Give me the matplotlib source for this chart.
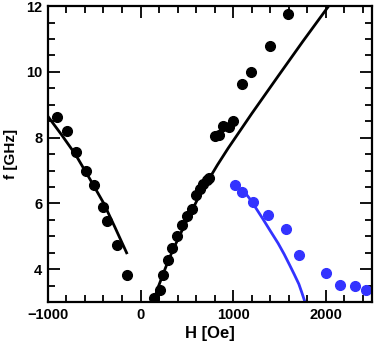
import numpy as np
import matplotlib
matplotlib.use("Agg")
import matplotlib.pyplot as plt
from matplotlib.ticker import MultipleLocator

plt.rcParams['font.family'] = ['Liberation Sans', 'DejaVu Sans']
plt.rcParams['font.weight'] = 'bold'

# measured points, negative field branch
h_neg = [-900, -798, -698, -593, -500, -403, -360, -259, -151]
f_neg = [8.63, 8.21, 7.56, 6.98, 6.55, 5.89, 5.46, 4.74, 3.83]

# measured points, positive field branch (black)
h_pos = [144, 209, 244, 302, 341, 395, 446, 497, 551, 597, 640, 676, 713, 741,
         802, 848, 892, 950, 993, 1093, 1191, 1396, 1593]
f_pos = [3.12, 3.37, 3.83, 4.27, 4.66, 5.01, 5.33, 5.62, 5.84, 6.27, 6.45, 6.60, 6.71, 6.78,
         8.04, 8.09, 8.37, 8.31, 8.52, 9.63, 9.99, 10.80, 11.76]

# measured points, blue mode
h_blue = [1018, 1093, 1215, 1377, 1565, 1709, 1997, 2151, 2310, 2439]
f_blue = [6.55, 6.35, 6.05, 5.64, 5.23, 4.43, 3.88, 3.51, 3.48, 3.36]

# model curves
h_fit_neg = [-1000, -850, -700, -550, -400, -275, -150]
f_fit_neg = [8.65, 8.08, 7.48, 6.76, 6.02, 5.27, 4.50]

h_fit_pos = [137, 190, 250, 300, 352, 440, 530, 620, 713, 830, 946,
             1200, 1485, 1750, 2025]
f_fit_pos = [3.0, 3.45, 3.9, 4.26, 4.6, 5.13, 5.65, 6.15, 6.62, 7.17, 7.68,
             8.73, 9.87, 10.92, 11.98]

h_fit_blue = [1095, 1172, 1250, 1323, 1400, 1485, 1550, 1611, 1660, 1709, 1740, 1773]
f_fit_blue = [6.45, 6.17, 5.84, 5.52, 5.17, 4.79, 4.46, 4.12, 3.84, 3.55, 3.30, 3.02]

fig = plt.figure(figsize=(3.74, 3.41), dpi=100)
ax = fig.add_axes([0.128, 0.114, 0.867, 0.868])

blue = '#3333ff'
ax.plot(h_fit_neg, f_fit_neg, color='black', lw=2.0)
ax.plot(h_fit_pos, f_fit_pos, color='black', lw=2.0)
ax.plot(h_fit_blue, f_fit_blue, color=blue, lw=2.0)
ax.plot(h_neg, f_neg, 'o', color='black', ms=7)
ax.plot(h_pos, f_pos, 'o', color='black', ms=7)
ax.plot(h_blue, f_blue, 'o', color=blue, ms=7)

ax.set_xlim(-1000, 2500)
ax.set_ylim(3, 12)
ax.xaxis.set_major_locator(MultipleLocator(1000))
ax.xaxis.set_minor_locator(MultipleLocator(200))
ax.yaxis.set_major_locator(MultipleLocator(2))
ax.yaxis.set_minor_locator(MultipleLocator(0.5))
ax.tick_params(which='both', direction='in', top=True, right=True, width=1.3,
               labelsize=10.5, pad=4)
ax.tick_params(which='major', length=8.5)
ax.tick_params(which='minor', length=5)
for s in ax.spines.values():
    s.set_linewidth(1.6)
for lab in ax.get_xticklabels() + ax.get_yticklabels():
    lab.set_fontweight('bold')

ax.set_xlabel('H [Oe]', fontsize=12, fontweight='bold', labelpad=3)
ax.set_ylabel('f [GHz]', fontsize=11, fontweight='bold', labelpad=6)

fig.savefig('out.png', dpi=100)
